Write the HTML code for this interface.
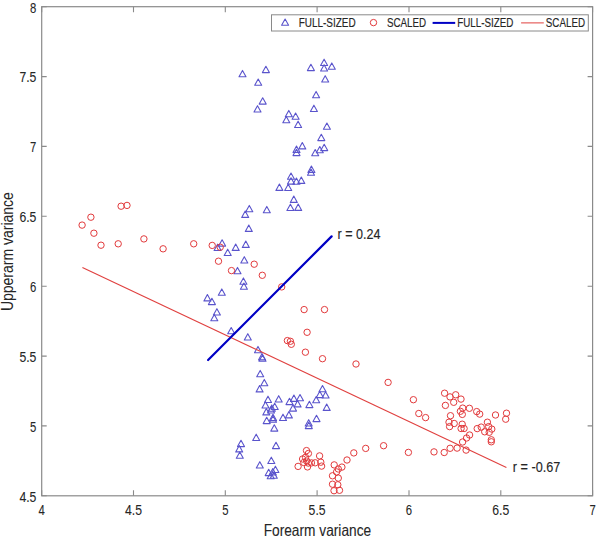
<!DOCTYPE html>
<html><head><meta charset="utf-8"><style>
html,body{margin:0;padding:0;background:#fff;width:597px;height:537px;overflow:hidden}
svg{display:block}
</style></head><body>
<svg width="597" height="537" viewBox="0 0 597 537">
<rect width="597" height="537" fill="#fff"/>
<g fill="none" stroke="#5a54cc" stroke-width="1.1" stroke-linejoin="round">
<path d="M242.5,70.4L246.0,76.7H239.0Z"/>
<path d="M265.9,66.3L269.4,72.6H262.4Z"/>
<path d="M258.2,79.0L261.7,85.3H254.7Z"/>
<path d="M262.7,97.8L266.2,104.1H259.2Z"/>
<path d="M257.5,105.7L261.0,112.0H254.0Z"/>
<path d="M310.9,64.3L314.4,70.6H307.4Z"/>
<path d="M324.1,59.2L327.6,65.5H320.6Z"/>
<path d="M324.1,64.7L327.6,71.0H320.6Z"/>
<path d="M331.8,62.9L335.3,69.2H328.3Z"/>
<path d="M325.2,75.7L328.7,82.0H321.7Z"/>
<path d="M316.1,91.4L319.6,97.7H312.6Z"/>
<path d="M313.9,105.2L317.4,111.5H310.4Z"/>
<path d="M288.8,110.4L292.3,116.7H285.3Z"/>
<path d="M295.6,113.0L299.1,119.3H292.1Z"/>
<path d="M286.3,116.4L289.8,122.7H282.8Z"/>
<path d="M298.1,121.2L301.6,127.5H294.6Z"/>
<path d="M326.9,123.0L330.4,129.3H323.4Z"/>
<path d="M321.3,134.3L324.8,140.6H317.8Z"/>
<path d="M302.3,142.6L305.8,148.9H298.8Z"/>
<path d="M296.5,146.1L300.0,152.4H293.0Z"/>
<path d="M296.5,149.3L300.0,155.6H293.0Z"/>
<path d="M324.2,144.3L327.7,150.6H320.7Z"/>
<path d="M319.8,146.5L323.3,152.8H316.3Z"/>
<path d="M315.2,149.5L318.7,155.8H311.7Z"/>
<path d="M311.4,166.1L314.9,172.4H307.9Z"/>
<path d="M311.0,169.0L314.5,175.3H307.5Z"/>
<path d="M291.0,173.0L294.5,179.3H287.5Z"/>
<path d="M291.0,177.8L294.5,184.1H287.5Z"/>
<path d="M296.4,178.0L299.9,184.3H292.9Z"/>
<path d="M301.3,177.1L304.8,183.4H297.8Z"/>
<path d="M279.4,184.1L282.9,190.4H275.9Z"/>
<path d="M288.2,184.2L291.7,190.5H284.7Z"/>
<path d="M293.8,196.1L297.3,202.4H290.3Z"/>
<path d="M290.4,204.2L293.9,210.5H286.9Z"/>
<path d="M298.2,204.1L301.7,210.4H294.7Z"/>
<path d="M266.8,206.4L270.3,212.7H263.3Z"/>
<path d="M249.3,205.4L252.8,211.7H245.8Z"/>
<path d="M245.2,211.1L248.7,217.4H241.7Z"/>
<path d="M248.8,225.1L252.3,231.4H245.3Z"/>
<path d="M245.8,241.1L249.3,247.4H242.3Z"/>
<path d="M235.7,244.1L239.2,250.4H232.2Z"/>
<path d="M222.1,239.8L225.6,246.1H218.6Z"/>
<path d="M217.6,244.2L221.1,250.5H214.1Z"/>
<path d="M227.7,249.2L231.2,255.5H224.2Z"/>
<path d="M244.3,256.7L247.8,263.0H240.8Z"/>
<path d="M237.5,267.4L241.0,273.7H234.0Z"/>
<path d="M243.4,277.9L246.9,284.2H239.9Z"/>
<path d="M243.9,283.0L247.4,289.3H240.4Z"/>
<path d="M221.8,288.9L225.3,295.2H218.3Z"/>
<path d="M207.4,294.6L210.9,300.9H203.9Z"/>
<path d="M211.9,298.3L215.4,304.6H208.4Z"/>
<path d="M216.9,308.7L220.4,315.0H213.4Z"/>
<path d="M214.3,314.5L217.8,320.8H210.8Z"/>
<path d="M231.2,327.5L234.7,333.8H227.7Z"/>
<path d="M247.8,333.7L251.3,340.0H244.3Z"/>
<path d="M258.0,346.4L261.5,352.7H254.5Z"/>
<path d="M262.0,353.6L265.5,359.9H258.5Z"/>
<path d="M262.5,354.9L266.0,361.2H259.0Z"/>
<path d="M260.2,370.4L263.7,376.7H256.7Z"/>
<path d="M264.3,379.4L267.8,385.7H260.8Z"/>
<path d="M259.6,385.6L263.1,391.9H256.1Z"/>
<path d="M268.0,396.2L271.5,402.5H264.5Z"/>
<path d="M278.7,395.7L282.2,402.0H275.2Z"/>
<path d="M265.5,401.7L269.0,408.0H262.0Z"/>
<path d="M271.8,404.9L275.3,411.2H268.3Z"/>
<path d="M274.7,403.2L278.2,409.5H271.2Z"/>
<path d="M271.0,406.7L274.5,413.0H267.5Z"/>
<path d="M266.3,408.6L269.8,414.9H262.8Z"/>
<path d="M266.7,417.3L270.2,423.6H263.2Z"/>
<path d="M273.0,414.3L276.5,420.6H269.5Z"/>
<path d="M273.0,416.0L276.5,422.3H269.5Z"/>
<path d="M274.3,424.8L277.8,431.1H270.8Z"/>
<path d="M283.0,414.2L286.5,420.5H279.5Z"/>
<path d="M288.9,411.6L292.4,417.9H285.4Z"/>
<path d="M289.5,398.3L293.0,404.6H286.0Z"/>
<path d="M293.9,395.1L297.4,401.4H290.4Z"/>
<path d="M300.0,394.5L303.5,400.8H296.5Z"/>
<path d="M297.6,400.6L301.1,406.9H294.1Z"/>
<path d="M293.0,404.8L296.5,411.1H289.5Z"/>
<path d="M309.4,401.3L312.9,407.6H305.9Z"/>
<path d="M316.2,396.5L319.7,402.8H312.7Z"/>
<path d="M322.5,385.5L326.0,391.8H319.0Z"/>
<path d="M319.8,391.3L323.3,397.6H316.3Z"/>
<path d="M325.6,391.7L329.1,398.0H322.1Z"/>
<path d="M326.7,404.1L330.2,410.4H323.2Z"/>
<path d="M316.5,415.3L320.0,421.6H313.0Z"/>
<path d="M308.7,419.7L312.2,426.0H305.2Z"/>
<path d="M308.8,422.3L312.3,428.6H305.3Z"/>
<path d="M256.2,434.2L259.7,440.5H252.7Z"/>
<path d="M241.0,440.3L244.5,446.6H237.5Z"/>
<path d="M239.2,445.6L242.7,451.9H235.7Z"/>
<path d="M239.8,451.9L243.3,458.2H236.3Z"/>
<path d="M276.0,442.3L279.5,448.6H272.5Z"/>
<path d="M271.3,457.2L274.8,463.5H267.8Z"/>
<path d="M259.8,461.7L263.3,468.0H256.3Z"/>
<path d="M275.4,466.2L278.9,472.5H271.9Z"/>
<path d="M268.7,469.3L272.2,475.6H265.2Z"/>
<path d="M272.8,468.6L276.3,474.9H269.3Z"/>
<path d="M270.7,472.5L274.2,478.8H267.2Z"/>
<path d="M273.8,471.9L277.3,478.2H270.3Z"/>
</g>
<g fill="none" stroke="#e23a3c" stroke-width="1">
<circle cx="121.1" cy="206.2" r="3.2"/>
<circle cx="127.0" cy="205.4" r="3.2"/>
<circle cx="90.9" cy="217.2" r="3.2"/>
<circle cx="82.1" cy="225.1" r="3.2"/>
<circle cx="93.9" cy="233.2" r="3.2"/>
<circle cx="101.0" cy="245.2" r="3.2"/>
<circle cx="118.2" cy="243.8" r="3.2"/>
<circle cx="143.9" cy="238.9" r="3.2"/>
<circle cx="163.1" cy="248.8" r="3.2"/>
<circle cx="193.7" cy="243.8" r="3.2"/>
<circle cx="212.2" cy="245.4" r="3.2"/>
<circle cx="220.2" cy="247.2" r="3.2"/>
<circle cx="218.5" cy="261.2" r="3.2"/>
<circle cx="231.5" cy="270.6" r="3.2"/>
<circle cx="254.2" cy="264.2" r="3.2"/>
<circle cx="262.3" cy="275.3" r="3.2"/>
<circle cx="281.7" cy="286.9" r="3.2"/>
<circle cx="304.1" cy="309.6" r="3.2"/>
<circle cx="324.5" cy="309.6" r="3.2"/>
<circle cx="307.1" cy="332.3" r="3.2"/>
<circle cx="287.4" cy="340.6" r="3.2"/>
<circle cx="290.4" cy="341.3" r="3.2"/>
<circle cx="291.3" cy="344.3" r="3.2"/>
<circle cx="305.4" cy="352.2" r="3.2"/>
<circle cx="322.5" cy="358.7" r="3.2"/>
<circle cx="356.0" cy="364.0" r="3.2"/>
<circle cx="388.1" cy="382.4" r="3.2"/>
<circle cx="413.4" cy="399.7" r="3.2"/>
<circle cx="418.8" cy="413.5" r="3.2"/>
<circle cx="425.6" cy="417.6" r="3.2"/>
<circle cx="444.6" cy="393.2" r="3.2"/>
<circle cx="450.0" cy="396.9" r="3.2"/>
<circle cx="455.7" cy="394.8" r="3.2"/>
<circle cx="461.0" cy="399.1" r="3.2"/>
<circle cx="453.7" cy="402.3" r="3.2"/>
<circle cx="445.4" cy="405.4" r="3.2"/>
<circle cx="462.7" cy="408.1" r="3.2"/>
<circle cx="469.4" cy="408.3" r="3.2"/>
<circle cx="460.4" cy="411.3" r="3.2"/>
<circle cx="462.3" cy="414.4" r="3.2"/>
<circle cx="450.5" cy="415.7" r="3.2"/>
<circle cx="449.0" cy="422.2" r="3.2"/>
<circle cx="454.2" cy="423.5" r="3.2"/>
<circle cx="449.6" cy="426.6" r="3.2"/>
<circle cx="462.2" cy="424.2" r="3.2"/>
<circle cx="461.1" cy="428.5" r="3.2"/>
<circle cx="464.1" cy="428.5" r="3.2"/>
<circle cx="476.7" cy="411.6" r="3.2"/>
<circle cx="479.7" cy="414.1" r="3.2"/>
<circle cx="495.5" cy="415.0" r="3.2"/>
<circle cx="506.5" cy="413.2" r="3.2"/>
<circle cx="505.7" cy="419.2" r="3.2"/>
<circle cx="487.4" cy="422.2" r="3.2"/>
<circle cx="477.2" cy="428.6" r="3.2"/>
<circle cx="481.2" cy="427.1" r="3.2"/>
<circle cx="488.7" cy="426.6" r="3.2"/>
<circle cx="491.8" cy="429.1" r="3.2"/>
<circle cx="484.7" cy="431.8" r="3.2"/>
<circle cx="489.2" cy="432.3" r="3.2"/>
<circle cx="491.3" cy="439.8" r="3.2"/>
<circle cx="491.3" cy="441.8" r="3.2"/>
<circle cx="469.6" cy="435.0" r="3.2"/>
<circle cx="466.6" cy="438.0" r="3.2"/>
<circle cx="462.6" cy="442.0" r="3.2"/>
<circle cx="457.1" cy="448.1" r="3.2"/>
<circle cx="450.1" cy="448.3" r="3.2"/>
<circle cx="444.2" cy="452.5" r="3.2"/>
<circle cx="434.0" cy="451.9" r="3.2"/>
<circle cx="408.4" cy="452.4" r="3.2"/>
<circle cx="466.1" cy="450.1" r="3.2"/>
<circle cx="383.6" cy="445.7" r="3.2"/>
<circle cx="365.7" cy="448.4" r="3.2"/>
<circle cx="353.8" cy="452.9" r="3.2"/>
<circle cx="347.0" cy="460.0" r="3.2"/>
<circle cx="341.9" cy="467.1" r="3.2"/>
<circle cx="338.3" cy="469.0" r="3.2"/>
<circle cx="336.6" cy="471.9" r="3.2"/>
<circle cx="334.2" cy="464.9" r="3.2"/>
<circle cx="332.5" cy="475.8" r="3.2"/>
<circle cx="338.3" cy="478.1" r="3.2"/>
<circle cx="332.5" cy="484.2" r="3.2"/>
<circle cx="337.8" cy="484.8" r="3.2"/>
<circle cx="334.0" cy="490.7" r="3.2"/>
<circle cx="339.5" cy="490.3" r="3.2"/>
<circle cx="306.5" cy="450.6" r="3.2"/>
<circle cx="308.4" cy="453.5" r="3.2"/>
<circle cx="302.6" cy="459.0" r="3.2"/>
<circle cx="298.1" cy="466.4" r="3.2"/>
<circle cx="303.8" cy="462.5" r="3.2"/>
<circle cx="306.7" cy="461.0" r="3.2"/>
<circle cx="308.4" cy="463.1" r="3.2"/>
<circle cx="307.5" cy="466.9" r="3.2"/>
<circle cx="311.4" cy="462.9" r="3.2"/>
<circle cx="315.2" cy="462.8" r="3.2"/>
<circle cx="319.6" cy="455.9" r="3.2"/>
<circle cx="320.8" cy="462.2" r="3.2"/>
<circle cx="321.6" cy="466.1" r="3.2"/>
<circle cx="305.5" cy="457.3" r="3.2"/>
</g>
<line x1="82.4" y1="267.6" x2="506.4" y2="467.4" stroke="#e0403f" stroke-width="1.1"/>
<line x1="208.1" y1="360.0" x2="331.6" y2="236.4" stroke="#0000c4" stroke-width="2.2" stroke-linecap="round"/>
<rect x="41.7" y="6.7" width="550.9" height="489.1" fill="none" stroke="#8a8a8a" stroke-width="1.2"/>
<path d="M41.7,495.8v-5.5M41.7,6.7v5.5M133.5,495.8v-5.5M133.5,6.7v5.5M225.3,495.8v-5.5M225.3,6.7v5.5M317.1,495.8v-5.5M317.1,6.7v5.5M409.0,495.8v-5.5M409.0,6.7v5.5M500.8,495.8v-5.5M500.8,6.7v5.5M592.6,495.8v-5.5M592.6,6.7v5.5M41.7,495.8h5M592.6,495.8h-5M41.7,425.9h5M592.6,425.9h-5M41.7,356.1h5M592.6,356.1h-5M41.7,286.2h5M592.6,286.2h-5M41.7,216.3h5M592.6,216.3h-5M41.7,146.4h5M592.6,146.4h-5M41.7,76.6h5M592.6,76.6h-5M41.7,6.7h5M592.6,6.7h-5" stroke="#8a8a8a" stroke-width="1.1" fill="none"/>
<text x="41.7" y="515.0" font-family="Liberation Sans, sans-serif" stroke="#262626" stroke-width="0.1" font-size="15.4" fill="#262626" text-anchor="middle" textLength="6.3" lengthAdjust="spacingAndGlyphs">4</text>
<text x="133.5" y="515.0" font-family="Liberation Sans, sans-serif" stroke="#262626" stroke-width="0.1" font-size="15.4" fill="#262626" text-anchor="middle" textLength="17.0" lengthAdjust="spacingAndGlyphs">4.5</text>
<text x="225.3" y="515.0" font-family="Liberation Sans, sans-serif" stroke="#262626" stroke-width="0.1" font-size="15.4" fill="#262626" text-anchor="middle" textLength="6.3" lengthAdjust="spacingAndGlyphs">5</text>
<text x="317.1" y="515.0" font-family="Liberation Sans, sans-serif" stroke="#262626" stroke-width="0.1" font-size="15.4" fill="#262626" text-anchor="middle" textLength="17.0" lengthAdjust="spacingAndGlyphs">5.5</text>
<text x="409.0" y="515.0" font-family="Liberation Sans, sans-serif" stroke="#262626" stroke-width="0.1" font-size="15.4" fill="#262626" text-anchor="middle" textLength="6.3" lengthAdjust="spacingAndGlyphs">6</text>
<text x="500.8" y="515.0" font-family="Liberation Sans, sans-serif" stroke="#262626" stroke-width="0.1" font-size="15.4" fill="#262626" text-anchor="middle" textLength="17.0" lengthAdjust="spacingAndGlyphs">6.5</text>
<text x="592.6" y="515.0" font-family="Liberation Sans, sans-serif" stroke="#262626" stroke-width="0.1" font-size="15.4" fill="#262626" text-anchor="middle" textLength="6.3" lengthAdjust="spacingAndGlyphs">7</text>
<text x="36.4" y="501.6" font-family="Liberation Sans, sans-serif" stroke="#262626" stroke-width="0.1" font-size="15.4" fill="#262626" text-anchor="end" textLength="17.0" lengthAdjust="spacingAndGlyphs">4.5</text>
<text x="36.4" y="431.7" font-family="Liberation Sans, sans-serif" stroke="#262626" stroke-width="0.1" font-size="15.4" fill="#262626" text-anchor="end" textLength="6.3" lengthAdjust="spacingAndGlyphs">5</text>
<text x="36.4" y="361.9" font-family="Liberation Sans, sans-serif" stroke="#262626" stroke-width="0.1" font-size="15.4" fill="#262626" text-anchor="end" textLength="17.0" lengthAdjust="spacingAndGlyphs">5.5</text>
<text x="36.4" y="292.0" font-family="Liberation Sans, sans-serif" stroke="#262626" stroke-width="0.1" font-size="15.4" fill="#262626" text-anchor="end" textLength="6.3" lengthAdjust="spacingAndGlyphs">6</text>
<text x="36.4" y="222.1" font-family="Liberation Sans, sans-serif" stroke="#262626" stroke-width="0.1" font-size="15.4" fill="#262626" text-anchor="end" textLength="17.0" lengthAdjust="spacingAndGlyphs">6.5</text>
<text x="36.4" y="152.2" font-family="Liberation Sans, sans-serif" stroke="#262626" stroke-width="0.1" font-size="15.4" fill="#262626" text-anchor="end" textLength="6.3" lengthAdjust="spacingAndGlyphs">7</text>
<text x="36.4" y="82.4" font-family="Liberation Sans, sans-serif" stroke="#262626" stroke-width="0.1" font-size="15.4" fill="#262626" text-anchor="end" textLength="17.0" lengthAdjust="spacingAndGlyphs">7.5</text>
<text x="36.4" y="12.5" font-family="Liberation Sans, sans-serif" stroke="#262626" stroke-width="0.1" font-size="15.4" fill="#262626" text-anchor="end" textLength="6.3" lengthAdjust="spacingAndGlyphs">8</text>
<text x="317.4" y="535.6" font-family="Liberation Sans, sans-serif" stroke="#262626" stroke-width="0.1" font-size="16.5" fill="#262626" text-anchor="middle" textLength="107.5" lengthAdjust="spacingAndGlyphs">Forearm variance</text>
<text transform="translate(12.5,251.6) rotate(-90)" font-family="Liberation Sans, sans-serif" stroke="#262626" stroke-width="0.05" font-size="16.5" fill="#262626" text-anchor="middle" textLength="119" lengthAdjust="spacingAndGlyphs">Upperarm variance</text>
<text x="337.6" y="239.2" font-family="Liberation Sans, sans-serif" stroke="#262626" stroke-width="0.15" font-size="15" fill="#262626" textLength="43" lengthAdjust="spacingAndGlyphs">r = 0.24</text>
<text x="512.8" y="471.9" font-family="Liberation Sans, sans-serif" stroke="#262626" stroke-width="0.15" font-size="15" fill="#262626" textLength="47.5" lengthAdjust="spacingAndGlyphs">r = -0.67</text>
<rect x="271.5" y="14.8" width="316.8" height="16.2" fill="#fff" stroke="#8a8a8a" stroke-width="1"/>
<path d="M285.1,19.0L288.6,25.3H281.6Z" fill="none" stroke="#5a54cc" stroke-width="1.1" stroke-linejoin="round"/>
<circle cx="373.5" cy="22.6" r="3.2" fill="none" stroke="#e23a3c" stroke-width="1"/>
<text x="298.7" y="27.1" font-family="Liberation Sans, sans-serif" stroke="#262626" stroke-width="0.15" font-size="12" fill="#262626" textLength="57" lengthAdjust="spacingAndGlyphs">FULL-SIZED</text>
<text x="386.9" y="27.1" font-family="Liberation Sans, sans-serif" stroke="#262626" stroke-width="0.15" font-size="12" fill="#262626" textLength="39.2" lengthAdjust="spacingAndGlyphs">SCALED</text>
<line x1="432.6" y1="22.9" x2="455.2" y2="22.9" stroke="#0000c4" stroke-width="2"/>
<text x="457.2" y="27.1" font-family="Liberation Sans, sans-serif" stroke="#262626" stroke-width="0.15" font-size="12" fill="#262626" textLength="56.2" lengthAdjust="spacingAndGlyphs">FULL-SIZED</text>
<line x1="521.1" y1="22.9" x2="543.8" y2="22.9" stroke="#e0403f" stroke-width="1"/>
<text x="545.8" y="27.1" font-family="Liberation Sans, sans-serif" stroke="#262626" stroke-width="0.15" font-size="12" fill="#262626" textLength="39.2" lengthAdjust="spacingAndGlyphs">SCALED</text>
</svg>
</body></html>
